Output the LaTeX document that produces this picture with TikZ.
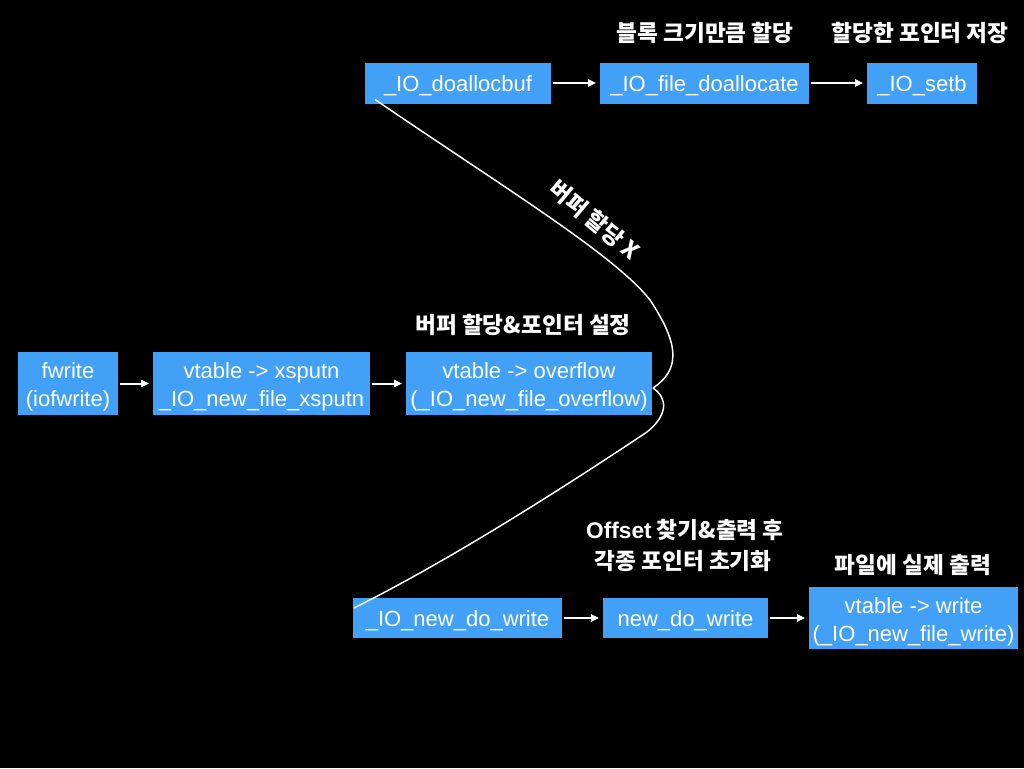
\documentclass[tikz,border=0pt]{standalone}
\usepackage{fontspec}
\setmainfont{Liberation Sans}
\newfontfamily\kr{Noto Sans CJK KR}
\usetikzlibrary{arrows.meta,positioning}
\definecolor{boxblue}{RGB}{66,161,247}

\begin{document}
\begin{tikzpicture}[x=0.75pt,y=-0.75pt,->,>={Triangle[length=6pt,width=5.5pt]},
                    line width=1.5pt,shorten >=3pt,shorten <=1.5pt,white]
  \tikzset{blk/.style={fill=boxblue,text=white,inner sep=0pt,outer sep=0pt,align=center,
                       minimum height=30.75pt,text height=12.2pt,text depth=0pt,
                       font=\fontsize{16.5}{21}\selectfont},
           tall/.style={minimum height=47.25pt,text height=35.2pt,text depth=-2pt},
           note/.style={text=white,inner sep=0pt,font=\kr\bfseries\fontsize{17}{21}\selectfont},
           link/.style={-,line width=1.1pt,shorten >=0pt,shorten <=0pt}}
  \useasboundingbox[fill=black] (0,0) rectangle (1024,768);

  % top row
  \node[blk,minimum width=139.5pt]  (doalloc)   at (458,83)                {\_IO\_doallocbuf};
  \node[blk,minimum width=156.75pt] (filealloc) [right=36.75pt of doalloc] {\_IO\_file\_doallocate};
  \node[blk,minimum width=82.5pt]   (setb)      [right=43.5pt of filealloc] {\_IO\_setb};

  % middle row
  \node[blk,tall,minimum width=75pt]     (fwrite)   at (68,383.5)             {fwrite\\(iofwrite)};
  \node[blk,tall,minimum width=162.75pt] (xsputn)   [right=26.25pt of fwrite] {vtable -> xsputn\\\_IO\_new\_file\_xsputn};
  \node[blk,tall,minimum width=184.5pt]  (overflow) [right=27pt of xsputn]    {vtable -> overflow\\(\_IO\_new\_file\_overflow)};

  % bottom row
  \node[blk,minimum width=156.75pt,minimum height=30pt]   (newdo)   at (457.5,618)             {\_IO\_new\_do\_write};
  \node[blk,minimum width=123.75pt,minimum height=30pt]   (dowrite) [right=30.75pt of newdo]   {new\_do\_write};
  \node[blk,tall,minimum width=156.75pt,minimum height=46.5pt] (vwrite)  [right=30.75pt of dowrite] {vtable -> write\\(\_IO\_new\_file\_write)};

  % notes
  \node[note] (n1) at (705,33)  {블록 크기만큼 할당};
  \node[note] (n2) at (920,33)  {할당한 포인터 저장};
  \node[note] (n3) at (523,325) {버퍼 할당\&포인터 설정};
  \node[note] (n4) at (685,530) {{\rmfamily Offset} 찾기\&출력 후};
  \node[note] (n5) at (683,561) {각종 포인터 초기화};
  \node[note] (n6) at (913,565) {파일에 실제 출력};
  \node[note,rotate=-40] (n7) at (595,220) {버퍼 할당 X};

  \draw (doalloc) -- (filealloc);
  \draw (filealloc) -- (setb);
  \draw (fwrite) -- (xsputn);
  \draw (xsputn) -- (overflow);
  \draw (newdo) -- (dowrite);
  \draw (dowrite) -- (vwrite);

  % curves into and out of overflow
  \coordinate (tip) at ([xshift=0.75pt,yshift=-3.4pt]overflow.east);
  \draw[link] ([xshift=7.5pt,yshift=3pt]doalloc.south west)
      .. controls (500,185) and (615,255) .. (650,300)
      .. controls (680,345) and (680,370) .. (tip);
  \draw[link] (tip) .. controls (668,398) and (668,415) .. (647,432)
      .. controls (560,490) and (450,560) .. ([xshift=0.75pt,yshift=7.5pt]newdo.west);
\end{tikzpicture}
\end{document}
